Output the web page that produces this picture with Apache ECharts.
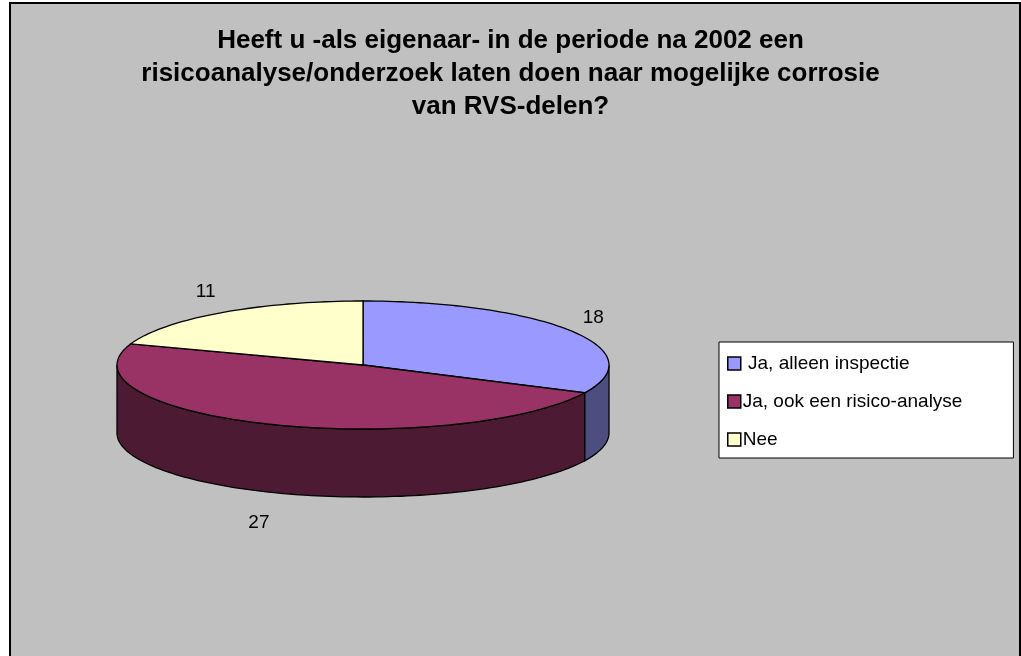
<!DOCTYPE html>
<html>
<head>
<meta charset="utf-8">
<script src="https://cdn.jsdelivr.net/npm/echarts@6/dist/echarts.min.js"></script>
<style>
  html, body { margin: 0; padding: 0; background: #fff; }
  #chart { width: 1021px; height: 656px; }
</style>
</head>
<body>
<div id="chart"></div>
<script>
const CATEGORIES = [' Ja, alleen inspectie', 'Ja, ook een risico-analyse', 'Nee']
const VALUES = [18, 27, 11]
const TOP_COLORS = ['#9999FF', '#993366', '#FFFFCC']
const SIDE_COLORS = ['#4D4D80', '#4D1A33', '#808066']
const TITLE = 'Heeft u -als eigenaar- in de periode na 2002 een\nrisicoanalyse/onderzoek laten doen naar mogelijke corrosie\nvan RVS-delen?'

// pie layout (tilted 3D look)
const CX = 363
const CY = 365
const RX = 246
const RY = 64
const DEPTH = 68
const FONT = 'Arial, "Liberation Sans", sans-serif'

function edge(a, b, dy) {
  const n = Math.max(2, Math.ceil(Math.abs(b - a) / (2 * Math.PI) * 240))
  const pts = []
  for (let i = 0; i <= n; i++) {
    const t = a + (b - a) * i / n
    pts.push([CX + RX * Math.sin(t), CY - RY * Math.cos(t) + dy])
  }
  return pts
}

function renderSlice(idx) {
  return function (params, api) {
    const total = VALUES.reduce((s, v) => s + v, 0)
    let before = 0
    for (let j = 0; j < idx; j++) before += VALUES[j]
    const v = api.value(0)
    const a0 = before / total * Math.PI * 2
    const a1 = (before + v) / total * Math.PI * 2
    const children = []

    // front wall, only the part facing the viewer
    const s = Math.max(a0, Math.PI / 2)
    const e = Math.min(a1, Math.PI * 1.5)
    if (e > s) {
      children.push({
        type: 'polygon',
        z2: 1,
        shape: { points: edge(s, e, 0).concat(edge(e, s, DEPTH)) },
        style: { fill: SIDE_COLORS[idx], stroke: '#000', lineWidth: 1.3 }
      })
    }

    children.push({
      type: 'polygon',
      z2: 10,
      shape: { points: [[CX, CY]].concat(edge(a0, a1, 0)) },
      style: { fill: TOP_COLORS[idx], stroke: '#000', lineWidth: 1.3 }
    })

    const mid = (a0 + a1) / 2
    const c = Math.cos(mid)
    children.push({
      type: 'text',
      z2: 20,
      x: CX + (RX + 26) * Math.sin(mid),
      y: CY + 3 - (RY + 30) * c + (c < 0 ? DEPTH : 0),
      style: {
        text: String(v),
        fill: '#000',
        font: '19px ' + FONT,
        align: 'center',
        verticalAlign: 'middle'
      }
    })

    return { type: 'group', children }
  }
}

const chart = echarts.init(document.getElementById('chart'), null, { renderer: 'canvas' })

const series = CATEGORIES.map((name, idx) => ({
  name,
  type: 'custom',
  coordinateSystem: 'none',
  itemStyle: { color: TOP_COLORS[idx] },
  renderItem: renderSlice(idx),
  data: [VALUES[idx]]
}))

chart.setOption({
  backgroundColor: '#fff',
  animation: false,
  graphic: [{
    type: 'rect',
    z: -1,
    silent: true,
    shape: { x: 10, y: 3, width: 1010, height: 700 },
    style: { fill: '#C0C0C0', stroke: '#000', lineWidth: 2 }
  }],
  title: {
    text: TITLE,
    left: 'center',
    top: 24,
    padding: 0,
    textStyle: {
      fontFamily: FONT,
      fontSize: 26,
      fontWeight: 'bold',
      color: '#000',
      lineHeight: 33
    }
  },
  legend: {
    orient: 'vertical',
    left: 719,
    top: 342,
    padding: [12, 51, 9, 8],
    itemGap: 19,
    itemWidth: 13,
    itemHeight: 13,
    icon: 'rect',
    backgroundColor: '#fff',
    borderColor: '#000',
    borderWidth: 1,
    itemStyle: { borderColor: '#000', borderWidth: 1.5 },
    textStyle: { fontFamily: FONT, fontSize: 19, color: '#000', padding: [0, 0, 0, -3] },
    data: CATEGORIES
  },
  series
})
</script>
</body>
</html>
